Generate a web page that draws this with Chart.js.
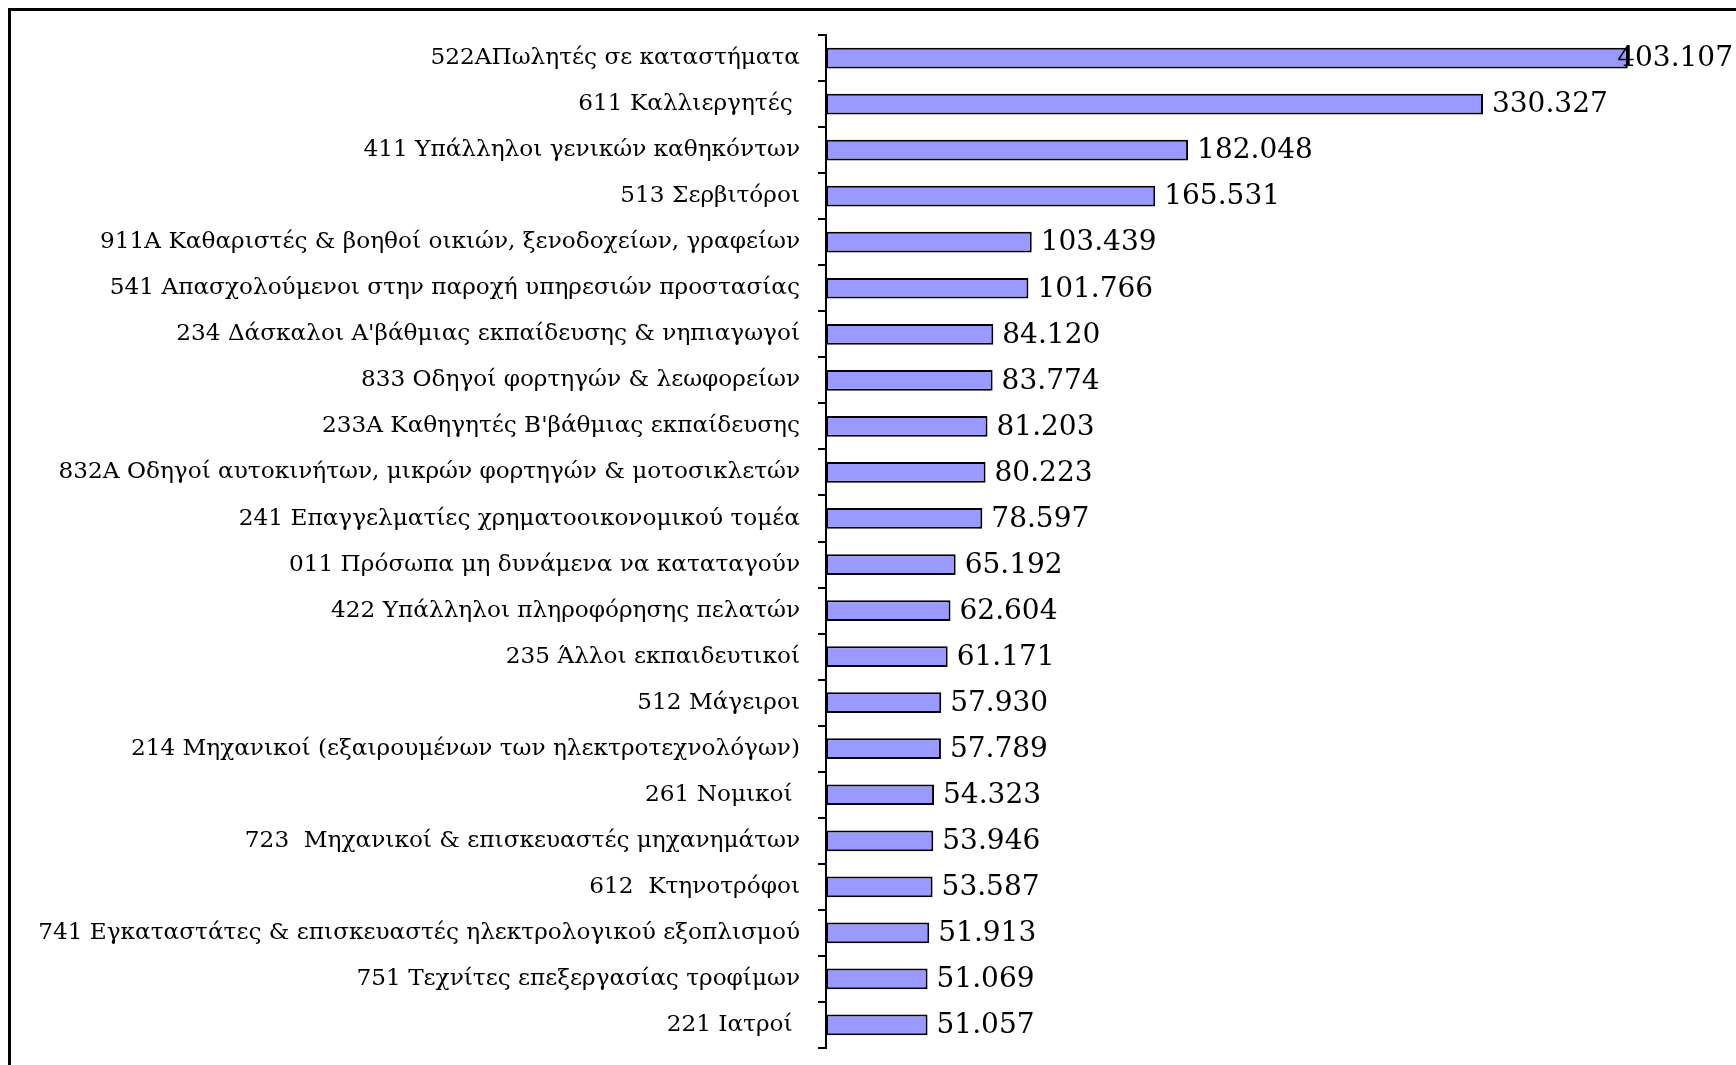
<!DOCTYPE html>
<html>
<head>
<meta charset="utf-8">
<script src="https://cdn.jsdelivr.net/npm/chart.js@4"></script>
<style>
  html, body { margin: 0; padding: 0; background: #fff; overflow: hidden; }
  #wrap { position: relative; width: 1736px; height: 1065px; }
  #frame { position: absolute; left: 8px; top: 8px; width: 2000px; height: 2000px; border: 3px solid #000; }
  canvas { position: absolute; left: 0; top: 0; }
</style>
</head>
<body>
<div id="wrap">
  <div id="frame"></div>
  <canvas id="chart" width="1736" height="1065"></canvas>
</div>
<script>
const categories = [
    '522ΑΠωλητές σε καταστήματα',
    '611 Καλλιεργητές ',
    '411 Υπάλληλοι γενικών καθηκόντων',
    '513 Σερβιτόροι',
    '911Α Καθαριστές & βοηθοί οικιών, ξενοδοχείων, γραφείων',
    '541 Απασχολούμενοι στην παροχή υπηρεσιών προστασίας',
    "234 Δάσκαλοι Α'βάθμιας εκπαίδευσης & νηπιαγωγοί",
    '833 Οδηγοί φορτηγών & λεωφορείων',
    "233Α Καθηγητές Β'βάθμιας εκπαίδευσης",
    '832Α Οδηγοί αυτοκινήτων, μικρών φορτηγών & μοτοσικλετών',
    '241 Επαγγελματίες χρηματοοικονομικού τομέα',
    '011 Πρόσωπα μη δυνάμενα να καταταγούν',
    '422 Υπάλληλοι πληροφόρησης πελατών',
    '235 Άλλοι εκπαιδευτικοί',
    '512 Μάγειροι',
    '214 Μηχανικοί (εξαιρουμένων των ηλεκτροτεχνολόγων)',
    '261 Νομικοί ',
    '723  Μηχανικοί & επισκευαστές μηχανημάτων',
    '612  Κτηνοτρόφοι',
    '741 Εγκαταστάτες & επισκευαστές ηλεκτρολογικού εξοπλισμού',
    '751 Τεχνίτες επεξεργασίας τροφίμων',
    '221 Ιατροί '
];
const employed = [
    403107, 330327, 182048, 165531, 103439, 101766, 84120, 83774, 81203, 80223, 78597,
    65192, 62604, 61171, 57930, 57789, 54323, 53946, 53587, 51913, 51069, 51057
];
const xMax = 450000;

// greek style thousands: 403107 -> 403.107
const fmt = v => String(v).replace(/\B(?=(\d{3})+(?!\d))/g, '.');

const valueLabels = {
    id: 'valueLabels',
    afterDatasetsDraw(chart) {
        const ctx = chart.ctx;
        const meta = chart.getDatasetMeta(0);
        ctx.save();
        ctx.font = '28px "DejaVu Serif"';
        ctx.fillStyle = '#000';
        ctx.textBaseline = 'middle';
        meta.data.forEach((bar, i) => {
            const txt = fmt(employed[i]);
            const w = ctx.measureText(txt).width;
            let x = bar.x + 9;
            // the top label gets pushed back inside the frame, like excel does
            if (x + w > chart.width - 3) x = chart.width - 3 - w;
            ctx.fillText(txt, x, bar.y + 1);
        });
        ctx.restore();
    }
};

new Chart(document.getElementById('chart'), {
    type: 'bar',
    data: {
        labels: categories,
        datasets: [{
            data: employed,
            backgroundColor: '#9999ff',
            borderColor: '#000',
            borderWidth: 2,
            borderSkipped: false,
            categoryPercentage: 0.45,
            barPercentage: 1
        }]
    },
    options: {
        indexAxis: 'y',
        responsive: false,
        animation: false,
        layout: { padding: { top: 35, bottom: 17, left: 0, right: 15 } },
        plugins: { legend: { display: false }, tooltip: { enabled: false } },
        scales: {
            x: {
                display: false,
                min: 0,
                max: xMax
            },
            y: {
                afterFit(scale) {
                    scale.width = 826;
                    scale.paddingTop = 0;
                    scale.paddingBottom = 0;
                },
                border: { display: true, color: '#000', width: 2 },
                grid: {
                    offset: true,
                    drawOnChartArea: false,
                    drawTicks: true,
                    tickLength: 8,
                    color: '#000',
                    lineWidth: 2
                },
                ticks: {
                    color: '#000',
                    padding: 18,
                    font: { family: '"DejaVu Serif"', size: 23.2 }
                }
            }
        }
    },
    plugins: [valueLabels]
});
</script>
</body>
</html>
